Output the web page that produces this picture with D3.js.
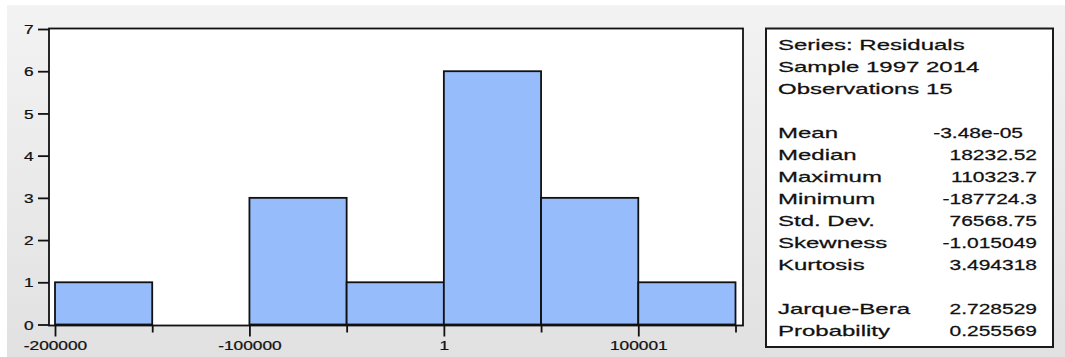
<!DOCTYPE html>
<html>
<head>
<meta charset="utf-8">
<script src="https://cdn.jsdelivr.net/npm/d3@7"></script>
<style>
  html, body { margin: 0; padding: 0; background: #ffffff; }
  svg { display: block; }
  text { font-family: "Liberation Sans", Arial, sans-serif; fill: #111; stroke: #111; stroke-width: 0.25px; }
</style>
</head>
<body>
<svg id="chart" width="1065" height="357"></svg>
<script>
// Histogram of regression residuals with summary statistics
const binEdges = [-200000, -150000, -100000, -50000, 0, 50000, 100000, 150000];
const binCounts = [1, 0, 3, 1, 6, 3, 1];
const xTickValues = [-200000, -100000, 1, 100001];
const xTickLabels = ["-200000", "-100000", "1", "100001"];
const yTickValues = [0, 1, 2, 3, 4, 5, 6, 7];

const headerLines = ["Series: Residuals", "Sample 1997 2014", "Observations 15"];
const statNames = ["Mean", "Median", "Maximum", "Minimum", "Std. Dev.", "Skewness", "Kurtosis"];
const statValues = ["-3.48e-05", "18232.52", "110323.7", "-187724.3", "76568.75", "-1.015049", "3.494318"];
const testNames = ["Jarque-Bera", "Probability"];
const testValues = ["2.728529", "0.255569"];

const svg = d3.select("#chart");

// glyph widening used by the bitmap-style labels
const tickFont = 13, tickStretch = 1.33;
const statFont = 15, labelStretch = 1.6, valueStretch = 1.4;

// panel background
const defs = svg.append("defs");
const grad = defs.append("linearGradient").attr("id", "bg").attr("x1", 0).attr("y1", 0).attr("x2", 0).attr("y2", 1);
grad.append("stop").attr("offset", "0%").attr("stop-color", "#f3f3f3");
grad.append("stop").attr("offset", "100%").attr("stop-color", "#e1e1e1");
svg.append("rect").attr("x", 7).attr("y", 5).attr("width", 1058).attr("height", 352).attr("fill", "url(#bg)");

// plot frame
const frame = { left: 49, right: 743, top: 28.5, bottom: 325.5 };
const x = d3.scaleLinear().domain([-200000, 150000]).range([55, 735.5]);
const y = d3.scaleLinear().domain([0, 7]).range([324.5, 29]);

svg.append("rect")
  .attr("x", frame.left).attr("y", frame.top)
  .attr("width", frame.right - frame.left).attr("height", frame.bottom - frame.top)
  .attr("fill", "#ffffff");

// bars
const bins = binCounts.map((c, i) => ({ x0: binEdges[i], x1: binEdges[i + 1], count: c }))
  .filter(b => b.count > 0);
svg.append("g").selectAll("rect").data(bins).join("rect")
  .attr("x", d => x(d.x0))
  .attr("y", d => y(d.count))
  .attr("width", d => x(d.x1) - x(d.x0))
  .attr("height", d => y(0) - y(d.count))
  .attr("fill", "#96bcfb")
  .attr("stroke", "#111")
  .attr("stroke-width", 1.8);

// frame outline
svg.append("rect")
  .attr("x", frame.left).attr("y", frame.top)
  .attr("width", frame.right - frame.left).attr("height", frame.bottom - frame.top)
  .attr("fill", "none").attr("stroke", "#111").attr("stroke-width", 1.8);

function styleTicks(g) {
  g.select(".domain").remove();
  g.selectAll(".tick line").attr("stroke", "#111").attr("stroke-width", 1.8);
}

// y axis
const yAxis = svg.append("g")
  .attr("transform", `translate(${frame.left},0)`)
  .call(d3.axisLeft(y).tickValues(yTickValues).tickSize(11).tickPadding(4).tickFormat(d3.format("d")));
styleTicks(yAxis);
yAxis.selectAll(".tick text")
  .attr("font-size", tickFont)
  .attr("font-family", null)
  .attr("x", null).attr("dy", null)
  .attr("text-anchor", "end")
  .attr("transform", `translate(-15.5,4.6) scale(${tickStretch},1)`);

// x axis: labelled ticks and bin-edge ticks
const minorEdges = binEdges.filter((e, i) => i % 2 === 1);
const xMinor = svg.append("g")
  .attr("transform", `translate(0,${frame.bottom})`)
  .call(d3.axisBottom(x).tickValues(minorEdges).tickSize(7).tickFormat(""));
styleTicks(xMinor);

const xAxis = svg.append("g")
  .attr("transform", `translate(0,${frame.bottom})`)
  .call(d3.axisBottom(x).tickValues(xTickValues).tickSize(11).tickFormat((d, i) => xTickLabels[i]));
styleTicks(xAxis);
xAxis.selectAll(".tick text")
  .attr("font-size", tickFont)
  .attr("font-family", null)
  .attr("y", null).attr("dy", null)
  .attr("text-anchor", "middle")
  .attr("transform", `translate(0,24) scale(${tickStretch},1)`);

// statistics box
const box = { left: 766, right: 1053, top: 28.5, bottom: 347 };
svg.append("rect")
  .attr("x", box.left).attr("y", box.top)
  .attr("width", box.right - box.left).attr("height", box.bottom - box.top)
  .attr("fill", "#ffffff").attr("stroke", "#1a1a1a").attr("stroke-width", 2);

const lineY = i => 49.5 + 22 * i;
const textLeft = 778, valueRight = 1037, sciRight = 1023;

const rows = [];
headerLines.forEach((t, i) => rows.push({ row: i, label: t }));
statNames.forEach((t, i) => rows.push({ row: 4 + i, label: t, value: statValues[i] }));
testNames.forEach((t, i) => rows.push({ row: 12 + i, label: t, value: testValues[i] }));

const statG = svg.append("g");
statG.selectAll("text.lab").data(rows).join("text")
  .attr("class", "lab")
  .attr("font-size", statFont)
  .attr("text-anchor", "start")
  .attr("transform", d => `translate(${textLeft},${lineY(d.row)}) scale(${labelStretch},1)`)
  .text(d => d.label);
statG.selectAll("text.val").data(rows.filter(d => d.value !== undefined)).join("text")
  .attr("class", "val")
  .attr("font-size", statFont)
  .attr("text-anchor", "end")
  .attr("transform", d => `translate(${/e/.test(d.value) ? sciRight : valueRight},${lineY(d.row)}) scale(${valueStretch},1)`)
  .text(d => d.value);
</script>
</body>
</html>
